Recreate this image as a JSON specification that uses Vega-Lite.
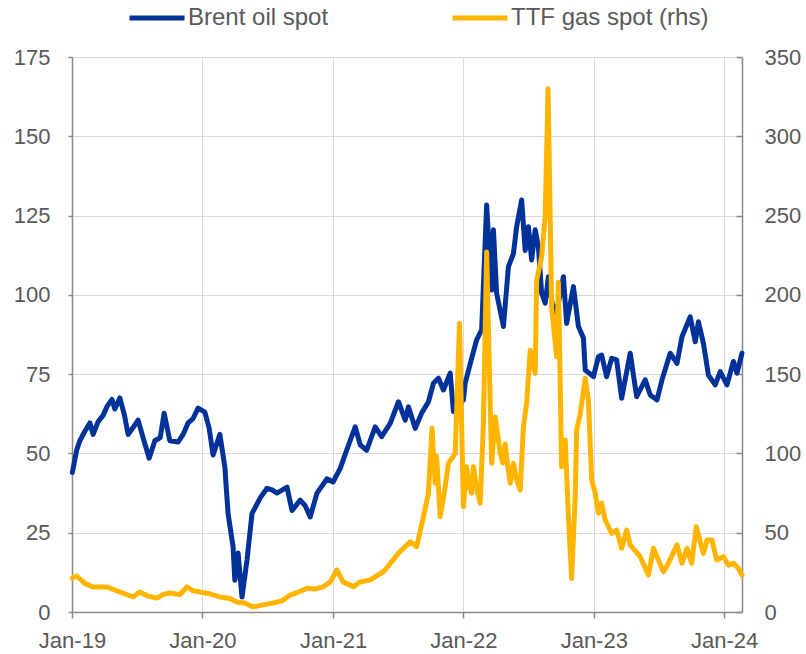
{
  "$schema": "https://vega.github.io/schema/vega-lite/v6.json",
  "width": 670,
  "height": 555,
  "autosize": {"type": "none"},
  "padding": {"left": 72, "top": 57, "right": 64, "bottom": 42},
  "datasets": {
    "brent": [
      {"date":"2019-01-02","value":44},{"date":"2019-01-14","value":51},{"date":"2019-01-23","value":54},{"date":"2019-02-06","value":57},
      {"date":"2019-02-20","value":59.6},{"date":"2019-03-01","value":56},{"date":"2019-03-15","value":60},{"date":"2019-03-29","value":62},
      {"date":"2019-04-10","value":65},{"date":"2019-04-23","value":67},{"date":"2019-05-01","value":64},{"date":"2019-05-15","value":67.5},
      {"date":"2019-05-28","value":62},{"date":"2019-06-07","value":56},{"date":"2019-06-20","value":58},{"date":"2019-07-05","value":60.5},
      {"date":"2019-07-19","value":55},{"date":"2019-08-05","value":48.5},{"date":"2019-08-21","value":54},{"date":"2019-09-05","value":55},
      {"date":"2019-09-16","value":62.7},{"date":"2019-10-02","value":54},{"date":"2019-10-25","value":53.6},{"date":"2019-11-08","value":56},
      {"date":"2019-11-22","value":59.6},{"date":"2019-12-06","value":61},{"date":"2019-12-20","value":64.3},{"date":"2020-01-08","value":63},
      {"date":"2020-01-20","value":58},{"date":"2020-01-31","value":49.5},{"date":"2020-02-19","value":56},{"date":"2020-03-04","value":45.7},
      {"date":"2020-03-13","value":31},{"date":"2020-03-27","value":20.5},{"date":"2020-04-01","value":10},{"date":"2020-04-10","value":18.6},
      {"date":"2020-04-21","value":4.7},{"date":"2020-05-05","value":16.4},{"date":"2020-05-19","value":31},{"date":"2020-06-11","value":36},
      {"date":"2020-06-30","value":39},{"date":"2020-07-14","value":38.5},{"date":"2020-07-28","value":37.5},{"date":"2020-08-25","value":39.4},{"date":"2020-09-08","value":32},
      {"date":"2020-10-01","value":35.3},{"date":"2020-10-15","value":33.5},{"date":"2020-10-29","value":30},{"date":"2020-11-17","value":37.5},{"date":"2020-12-15","value":42},
      {"date":"2021-01-01","value":41},{"date":"2021-01-21","value":45.3},{"date":"2021-02-08","value":51},{"date":"2021-03-04","value":58.4},
      {"date":"2021-03-18","value":52.7},{"date":"2021-04-05","value":51},{"date":"2021-04-29","value":58.4},{"date":"2021-05-17","value":55.3},
      {"date":"2021-06-10","value":59.5},{"date":"2021-07-03","value":66.3},{"date":"2021-07-22","value":60.5},{"date":"2021-07-31","value":64.7},
      {"date":"2021-08-19","value":57.9},{"date":"2021-09-06","value":62.7},{"date":"2021-09-25","value":66.3},{"date":"2021-10-09","value":72.1},
      {"date":"2021-10-23","value":73.7},{"date":"2021-11-06","value":70},{"date":"2021-11-25","value":75.3},{"date":"2021-12-04","value":63.2},
      {"date":"2022-01-01","value":66.9},{"date":"2022-01-06","value":72.2},{"date":"2022-01-24","value":80},{"date":"2022-02-07","value":85.8},
      {"date":"2022-02-21","value":89},{"date":"2022-03-07","value":128.3},{"date":"2022-03-21","value":101.5},{"date":"2022-03-26","value":120.5},
      {"date":"2022-04-04","value":100.5},{"date":"2022-04-23","value":90},{"date":"2022-05-07","value":108.9},{"date":"2022-05-21","value":113},
      {"date":"2022-05-30","value":121.5},{"date":"2022-06-13","value":129.9},{"date":"2022-06-23","value":114},{"date":"2022-07-02","value":121.5},
      {"date":"2022-07-11","value":111},{"date":"2022-07-21","value":120.5},{"date":"2022-07-30","value":115},{"date":"2022-08-08","value":100.5},
      {"date":"2022-08-18","value":97.4},{"date":"2022-08-27","value":105.7},{"date":"2022-09-10","value":94.3},{"date":"2022-09-24","value":97.4},
      {"date":"2022-10-08","value":105.7},{"date":"2022-10-17","value":91},{"date":"2022-11-05","value":102.6},{"date":"2022-11-19","value":90},
      {"date":"2022-12-03","value":86.4},{"date":"2022-12-08","value":76.3},{"date":"2022-12-31","value":74.2},{"date":"2023-01-14","value":80.5},
      {"date":"2023-01-23","value":81},{"date":"2023-02-06","value":74.2},{"date":"2023-02-20","value":80},{"date":"2023-03-06","value":79.5},
      {"date":"2023-03-20","value":67.4},{"date":"2023-04-13","value":81.6},{"date":"2023-05-01","value":67.9},{"date":"2023-05-25","value":73.2},
      {"date":"2023-06-08","value":68.4},{"date":"2023-06-27","value":66.9},{"date":"2023-07-11","value":73.2},{"date":"2023-08-03","value":81.6},
      {"date":"2023-08-22","value":78.4},{"date":"2023-09-05","value":86.8},{"date":"2023-09-28","value":93.1},{"date":"2023-10-12","value":85.2},
      {"date":"2023-10-21","value":91.5},{"date":"2023-11-04","value":84.7},{"date":"2023-11-18","value":74.7},{"date":"2023-12-07","value":71.6},
      {"date":"2023-12-21","value":75.8},{"date":"2024-01-09","value":71.6},{"date":"2024-01-27","value":79},{"date":"2024-02-06","value":75.3},
      {"date":"2024-02-20","value":81.6}
    ],
    "ttf": [
      {"date":"2019-01-02","value":21.4},{"date":"2019-01-14","value":22.7},{"date":"2019-02-06","value":18},{"date":"2019-03-01","value":15.8},
      {"date":"2019-04-09","value":15.8},{"date":"2019-05-15","value":12.6},{"date":"2019-06-21","value":9.5},{"date":"2019-07-10","value":12.6},
      {"date":"2019-08-02","value":10},{"date":"2019-08-27","value":8.8},{"date":"2019-09-13","value":11},{"date":"2019-10-02","value":12},
      {"date":"2019-10-30","value":11},{"date":"2019-11-19","value":15.8},{"date":"2019-12-06","value":13.5},{"date":"2019-12-25","value":12.6},
      {"date":"2020-01-22","value":11.5},{"date":"2020-02-19","value":9.5},{"date":"2020-03-18","value":8.5},{"date":"2020-04-07","value":6.3},
      {"date":"2020-04-30","value":5.5},{"date":"2020-05-22","value":3.2},{"date":"2020-06-19","value":4.5},{"date":"2020-07-17","value":5.7},
      {"date":"2020-08-11","value":7},{"date":"2020-09-03","value":10.7},{"date":"2020-10-01","value":13},{"date":"2020-10-20","value":15},
      {"date":"2020-11-12","value":14.5},{"date":"2020-12-04","value":15.8},{"date":"2020-12-24","value":19},{"date":"2021-01-12","value":26.5},
      {"date":"2021-01-29","value":19},{"date":"2021-02-27","value":16},{"date":"2021-03-18","value":19},{"date":"2021-04-15","value":20.2},
      {"date":"2021-05-22","value":25.4},{"date":"2021-07-03","value":37},{"date":"2021-08-05","value":44.3},{"date":"2021-08-23","value":41.2},
      {"date":"2021-09-11","value":60.1},{"date":"2021-09-25","value":74.9},{"date":"2021-10-05","value":115.9},{"date":"2021-10-14","value":81.2},
      {"date":"2021-10-18","value":98},{"date":"2021-10-28","value":60.1},{"date":"2021-11-11","value":79},{"date":"2021-11-20","value":93.8},
      {"date":"2021-12-09","value":100},{"date":"2021-12-21","value":182},{"date":"2022-01-01","value":66.4},{"date":"2022-01-10","value":91.6},
      {"date":"2022-01-16","value":80},{"date":"2022-01-24","value":74.9},{"date":"2022-01-29","value":91.6},{"date":"2022-02-07","value":78},{"date":"2022-02-17","value":68.6},{"date":"2022-02-26","value":119},
      {"date":"2022-03-07","value":227},{"date":"2022-03-21","value":93.8},{"date":"2022-03-31","value":123},{"date":"2022-04-14","value":100},
      {"date":"2022-04-21","value":94},{"date":"2022-04-28","value":106},{"date":"2022-05-05","value":92},{"date":"2022-05-12","value":81.2},{"date":"2022-05-21","value":93.8},{"date":"2022-05-29","value":84},{"date":"2022-06-09","value":77},
      {"date":"2022-06-18","value":117},{"date":"2022-06-27","value":131.6},{"date":"2022-07-07","value":165},{"date":"2022-07-21","value":150.5},
      {"date":"2022-07-25","value":209},{"date":"2022-08-08","value":224},{"date":"2022-08-18","value":250},{"date":"2022-08-26","value":330},
      {"date":"2022-09-05","value":192},{"date":"2022-09-19","value":161},{"date":"2022-09-24","value":208},{"date":"2022-10-03","value":91.6},
      {"date":"2022-10-13","value":108.5},{"date":"2022-10-22","value":60},{"date":"2022-10-31","value":21.2},{"date":"2022-11-10","value":72.7},
      {"date":"2022-11-14","value":114.8},{"date":"2022-11-24","value":125},{"date":"2022-12-08","value":147.4},{"date":"2022-12-17","value":133.7},
      {"date":"2022-12-26","value":83.3},{"date":"2023-01-05","value":74.9},{"date":"2023-01-14","value":62.3},{"date":"2023-01-23","value":68.6},
      {"date":"2023-02-02","value":58},{"date":"2023-02-20","value":49.6},{"date":"2023-03-06","value":51.7},{"date":"2023-03-20","value":40.2},
      {"date":"2023-04-03","value":51.7},{"date":"2023-04-13","value":42.3},{"date":"2023-05-11","value":34.9},{"date":"2023-06-03","value":23.3},
      {"date":"2023-06-17","value":40.2},{"date":"2023-07-01","value":32.8},{"date":"2023-07-15","value":25.4},{"date":"2023-07-29","value":30.7},
      {"date":"2023-08-22","value":42.3},{"date":"2023-09-05","value":30.7},{"date":"2023-09-19","value":40.2},{"date":"2023-10-02","value":30.7},
      {"date":"2023-10-15","value":53.8},{"date":"2023-10-26","value":44.3},{"date":"2023-11-04","value":37},{"date":"2023-11-14","value":45.4},
      {"date":"2023-11-28","value":45.4},{"date":"2023-12-11","value":32.8},{"date":"2023-12-30","value":34.9},{"date":"2024-01-13","value":29.6},
      {"date":"2024-01-27","value":30.7},{"date":"2024-02-10","value":27.6},{"date":"2024-02-20","value":23.3}
    ]
  },
  "encoding": {
    "x": {
      "field": "date",
      "type": "temporal",
      "scale": {"domain": [{"year": 2019, "month": 1, "date": 1}, {"year": 2024, "month": 2, "date": 20}]},
      "axis": {
        "title": null,
        "values": [
          {"year": 2019, "month": 1, "date": 1}, {"year": 2020, "month": 1, "date": 1},
          {"year": 2021, "month": 1, "date": 1}, {"year": 2022, "month": 1, "date": 1},
          {"year": 2023, "month": 1, "date": 1}, {"year": 2024, "month": 1, "date": 1}
        ],
        "format": "%b-%y",
        "grid": true,
        "tickSize": 6,
        "labelPadding": 12,
        "labelFlush": false,
        "labelOverlap": false
      }
    }
  },
  "layer": [
    {
      "data": {"name": "brent"},
      "mark": {"type": "line", "strokeWidth": 5, "strokeJoin": "round", "strokeCap": "round"},
      "encoding": {
        "y": {
          "field": "value",
          "type": "quantitative",
          "scale": {"domain": [0, 175], "nice": false},
          "axis": {
            "title": null,
            "orient": "left",
            "values": [0, 25, 50, 75, 100, 125, 150, 175],
            "grid": true,
            "tickSize": 4,
            "labelPadding": 18
          }
        },
        "color": {
          "datum": "Brent oil spot",
          "type": "nominal",
          "scale": {"domain": ["Brent oil spot", "TTF gas spot (rhs)"], "range": ["#003299", "#FFB400"]},
          "legend": {
            "title": null,
            "orient": "none",
            "direction": "horizontal",
            "legendX": 55,
            "legendY": -69,
            "symbolType": "stroke",
            "symbolSize": 3025,
            "symbolStrokeWidth": 5,
            "labelOffset": 1,
            "labelFontSize": 24,
            "labelColor": "#595959",
            "labelLimit": 400,
            "columnPadding": 113,
            "padding": 0
          }
        }
      }
    },
    {
      "data": {"name": "ttf"},
      "mark": {"type": "line", "strokeWidth": 5, "strokeJoin": "round", "strokeCap": "round"},
      "encoding": {
        "y": {
          "field": "value",
          "type": "quantitative",
          "scale": {"domain": [0, 350], "nice": false},
          "axis": {
            "title": null,
            "orient": "right",
            "values": [0, 50, 100, 150, 200, 250, 300, 350],
            "grid": false,
            "tickSize": -6,
            "labelPadding": 28,
            "labelAlign": "left"
          }
        },
        "color": {"datum": "TTF gas spot (rhs)", "type": "nominal"}
      }
    }
  ],
  "resolve": {"scale": {"y": "independent"}},
  "config": {
    "view": {"stroke": null},
    "font": "Liberation Sans",
    "axis": {
      "labelFont": "Liberation Sans",
      "labelFontSize": 22,
      "labelColor": "#595959",
      "domainColor": "#898989",
      "domainWidth": 1.5,
      "tickColor": "#898989",
      "tickWidth": 1.5,
      "gridColor": "#D9D9D9",
      "gridWidth": 1
    },
    "legend": {"labelFont": "Liberation Sans"}
  }
}
